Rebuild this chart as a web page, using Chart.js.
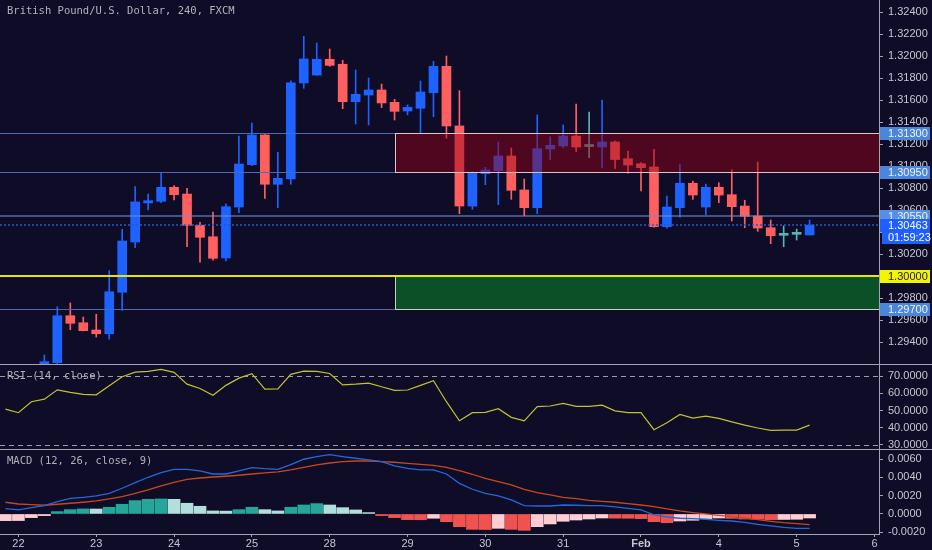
<!DOCTYPE html>
<html>
<head>
<meta charset="utf-8">
<title>GBP/USD 240</title>
<script src="https://cdn.jsdelivr.net/npm/chart.js@4.4.1/dist/chart.umd.min.js"></script>
<style>
  html, body { margin: 0; padding: 0; background: #0f0c27; }
  #wrap { position: relative; width: 932px; height: 550px; overflow: hidden; }
  #wrap canvas { position: absolute; left: 0; }
</style>
</head>
<body>
<div id="wrap">
  <canvas id="priceChart" width="932" height="364" style="top:0"></canvas>
  <canvas id="rsiChart" width="932" height="85" style="top:364px"></canvas>
  <canvas id="macdChart" width="932" height="101" style="top:449px"></canvas>
</div>
<script>
// dados - candles de 4h, indice 0..62
var dayLabels = ['22', '23', '24', '25', '28', '29', '30', '31', 'Feb', '4', '5', '6'];
var dayStarts = [1, 7, 13, 19, 25, 31, 37, 43, 49, 55, 61, 67];

var opens = [
  1.29150, 1.29120, 1.29090, 1.29150, 1.29212, 1.29639, 1.29575, 1.29509, 1.29475, 1.29852,
  1.30309, 1.30664, 1.30679, 1.30806, 1.30745, 1.30461, 1.30357, 1.30164, 1.30627, 1.31012,
  1.31282, 1.30834, 1.30882, 1.31755, 1.31827, 1.31970, 1.31925, 1.31585, 1.31645, 1.31691,
  1.31579, 1.31500, 1.31525, 1.31666, 1.31906, 1.31364, 1.30636, 1.30930, 1.30957, 1.31091,
  1.30782, 1.30621, 1.31155, 1.31182, 1.31273, 1.31177, 1.31173, 1.31218, 1.31066, 1.31021,
  1.30991, 1.30448, 1.30621, 1.30843, 1.30627, 1.30806, 1.30739, 1.30636, 1.30545, 1.30439,
  1.30370, 1.30379, 1.30373
];
var highs = [
  1.29190, 1.29150, 1.29170, 1.29282, 1.29721, 1.29755, 1.29627, 1.29652, 1.30048, 1.30425,
  1.30812, 1.30745, 1.30943, 1.30821, 1.30797, 1.30488, 1.30582, 1.30655, 1.31273, 1.31391,
  1.31285, 1.31125, 1.31775, 1.32179, 1.32118, 1.32064, 1.31961, 1.31873, 1.31800, 1.31745,
  1.31606, 1.31555, 1.31773, 1.31952, 1.32000, 1.31685, 1.30948, 1.30988, 1.31218, 1.31164,
  1.30882, 1.31464, 1.31266, 1.31373, 1.31564, 1.31491, 1.31600, 1.31227, 1.31136, 1.31030,
  1.31152, 1.30727, 1.31018, 1.30864, 1.30836, 1.30848, 1.30964, 1.30688, 1.31036, 1.30509,
  1.30455, 1.30427, 1.30509
];
var lows = [
  1.29080, 1.29060, 1.29070, 1.29120, 1.29200, 1.29512, 1.29500, 1.29445, 1.29425, 1.29688,
  1.30257, 1.30600, 1.30666, 1.30691, 1.30266, 1.30125, 1.30145, 1.30136, 1.30575, 1.31003,
  1.30706, 1.30621, 1.30834, 1.31706, 1.31823, 1.31906, 1.31521, 1.31382, 1.31373, 1.31530,
  1.31418, 1.31464, 1.31303, 1.31448, 1.31252, 1.30566, 1.30606, 1.30830, 1.30648, 1.30697,
  1.30548, 1.30566, 1.31057, 1.31166, 1.31130, 1.31075, 1.30982, 1.30979, 1.30934, 1.30773,
  1.30445, 1.30434, 1.30534, 1.30697, 1.30557, 1.30666, 1.30500, 1.30439, 1.30406, 1.30294,
  1.30266, 1.30327, 1.30373
];
var closes = [
  1.29120, 1.29090, 1.29150, 1.29221, 1.29639, 1.29570, 1.29503, 1.29475, 1.29857, 1.30318,
  1.30673, 1.30685, 1.30806, 1.30739, 1.30461, 1.30352, 1.30161, 1.30630, 1.31018, 1.31282,
  1.30834, 1.30888, 1.31757, 1.31973, 1.31970, 1.31915, 1.31585, 1.31652, 1.31691, 1.31573,
  1.31497, 1.31534, 1.31673, 1.31906, 1.31364, 1.30636, 1.30939, 1.30964, 1.31091, 1.30779,
  1.30621, 1.31157, 1.31188, 1.31273, 1.31173, 1.31177, 1.31218, 1.31059, 1.31009, 1.30985,
  1.30448, 1.30627, 1.30843, 1.30736, 1.30806, 1.30736, 1.30630, 1.30543, 1.30436, 1.30366,
  1.30370, 1.30379, 1.30463
];

var rsiValues = [
  50.8, 48.7, 55.1, 56.6, 62.0, 60.5, 59.4, 59.1, 64.4, 69.6,
  72.3, 72.7, 73.9, 72.2, 65.3, 62.8, 58.8, 64.6, 68.8, 71.4,
  62.4, 62.6, 71.0, 72.9, 72.7, 71.5, 64.9, 65.3, 65.9, 63.8,
  61.7, 61.9, 64.6, 67.3, 55.1, 44.0, 48.7, 48.9, 51.0, 46.0,
  44.0, 52.2, 52.6, 54.1, 52.4, 52.4, 53.1, 49.8, 48.7, 48.7,
  38.8, 42.9, 47.7, 45.6, 46.7, 45.4, 43.4, 41.5, 39.8, 38.4,
  38.6, 38.6, 41.5
];

var macdValues = [
  0.00058, 0.00044, 0.00069, 0.00091, 0.00135, 0.00171, 0.00182, 0.00197, 0.00226, 0.00281,
  0.00342, 0.00401, 0.00452, 0.00488, 0.00488, 0.00470, 0.00437, 0.00437, 0.00470, 0.00506,
  0.00495, 0.00488, 0.00539, 0.00598, 0.00627, 0.00648, 0.00627, 0.00609, 0.00590, 0.00572,
  0.00525, 0.00499, 0.00481, 0.00481, 0.00437, 0.00335, 0.00270, 0.00226, 0.00197, 0.00153,
  0.00091, 0.00087, 0.00087, 0.00098, 0.00095, 0.00091, 0.00091, 0.00077, 0.00062, 0.00044,
  -0.00011, -0.00033, -0.00047, -0.00051, -0.00058, -0.00069, -0.00077, -0.00091, -0.00113, -0.00131,
  -0.00146, -0.00157, -0.00157
];
var signalValues = [
  0.00128, 0.00109, 0.00102, 0.00095, 0.00106, 0.00117, 0.00128, 0.00142, 0.00164, 0.00189,
  0.00226, 0.00262, 0.00306, 0.00346, 0.00379, 0.00393, 0.00404, 0.00412, 0.00423, 0.00437,
  0.00448, 0.00459, 0.00481, 0.00510, 0.00536, 0.00557, 0.00572, 0.00579, 0.00579, 0.00572,
  0.00565, 0.00554, 0.00543, 0.00532, 0.00510, 0.00473, 0.00434, 0.00390, 0.00353, 0.00317,
  0.00270, 0.00233, 0.00208, 0.00182, 0.00168, 0.00149, 0.00138, 0.00128, 0.00113, 0.00098,
  0.00080, 0.00055, 0.00033, 0.00015, 0.00000, -0.00015, -0.00029, -0.00044, -0.00062, -0.00080,
  -0.00095, -0.00106, -0.00117
];
var histValues = [
  -0.00073, -0.00072, -0.00040, -0.00018, 0.00026, 0.00047, 0.00055, 0.00054, 0.00073, 0.00106,
  0.00146, 0.00160, 0.00164, 0.00160, 0.00117, 0.00084, 0.00033, 0.00031, 0.00047, 0.00073,
  0.00047, 0.00033, 0.00073, 0.00098, 0.00113, 0.00098, 0.00069, 0.00044, 0.00015, -0.00018,
  -0.00040, -0.00062, -0.00063, -0.00047, -0.00084, -0.00139, -0.00168, -0.00170, -0.00157, -0.00168,
  -0.00179, -0.00139, -0.00109, -0.00080, -0.00066, -0.00055, -0.00044, -0.00046, -0.00047, -0.00051,
  -0.00084, -0.00095, -0.00077, -0.00069, -0.00051, -0.00044, -0.00048, -0.00055, -0.00058, -0.00062,
  -0.00060, -0.00058, -0.00044
];

// ticks dos eixos
var priceTicks = [1.294, 1.296, 1.298, 1.300, 1.302, 1.304, 1.306, 1.308, 1.310, 1.312, 1.314, 1.316, 1.318, 1.320, 1.322, 1.324];
var rsiTicks = [30, 40, 50, 60, 70];
var rsiBands = [70, 30];
var macdTicks = [-0.002, 0, 0.002, 0.004, 0.006];

// niveis desenhados
var sellZone = [1.3095, 1.3130];
var buyZone = [1.2970, 1.3000];
var zoneFrom = 30;
var keyLevel = 1.3055;
var roundLevel = 1.3000;
var lastPrice = 1.30463;
var countdown = '01:59:23';

// estilo
var UP = '#1e62ff', DOWN = '#ff5f5f', DOJI = '#58b4b4';
var AXIS_W = 53;
var axisGray = '#a4a4b0';
var labelGray = '#c6c6ce';
var SANS = '"Liberation Sans", Arial, sans-serif';
var MONO = '"DejaVu Sans Mono", monospace';
var tickFont = { family: SANS, size: 11 };
var xMin = -0.42, xMax = 67.35;

var idx = closes.map(function (c, i) { return i; });

function candleColor(i) {
  if (opens[i] === closes[i]) return DOJI;
  return closes[i] > opens[i] ? UP : DOWN;
}

function histColor(i) {
  var v = histValues[i], prev = i > 0 ? histValues[i - 1] : v;
  if (v >= 0) return v >= prev ? '#26a69a' : '#b2dfdb';
  return v < prev ? '#ef5350' : '#ffcdd2';
}

function rightAxis(min, max, ticks, digits) {
  return {
    position: 'right', min: min, max: max,
    afterBuildTicks: function (s) { s.ticks = ticks.map(function (v) { return { value: v }; }); },
    afterFit: function (s) { s.width = AXIS_W; s.paddingTop = 0; s.paddingBottom = 0; },
    ticks: { color: labelGray, font: tickFont, padding: 5, autoSkip: false,
      callback: function (v) { return Number(v).toFixed(digits); } },
    grid: { drawOnChartArea: false, color: axisGray, tickLength: 4 },
    border: { color: axisGray }
  };
}

function hiddenX() {
  return { type: 'linear', min: xMin, max: xMax, offset: false, display: false };
}

function baseOptions(scales) {
  return {
    responsive: false, animation: false, events: [],
    layout: { padding: 0, autoPadding: false },
    plugins: { legend: { display: false }, tooltip: { enabled: false } },
    scales: scales
  };
}

function hLine(ctx, x0, x1, py, color, width, dash) {
  var yy = width % 2 === 1 ? Math.round(py) + 0.5 : Math.round(py);
  ctx.save();
  ctx.strokeStyle = color;
  ctx.lineWidth = width;
  ctx.setLineDash(dash || []);
  ctx.beginPath();
  ctx.moveTo(x0, yy);
  ctx.lineTo(x1, yy);
  ctx.stroke();
  ctx.restore();
}

function drawZone(ctx, x0, x1, yTop, yBot, fill, edge) {
  var l = Math.round(x0) + 0.5, t = Math.round(yTop) + 0.5, b = Math.round(yBot) + 0.5;
  ctx.fillStyle = fill;
  ctx.fillRect(l, t, x1 - l, b - t);
  ctx.strokeStyle = edge;
  ctx.lineWidth = 1;
  ctx.strokeRect(l, t, x1 - l + 2, b - t);
}

function priceTag(ctx, x0, x1, yc, text, bg, fg) {
  var y0 = Math.round(yc) - 6;
  ctx.fillStyle = bg;
  ctx.fillRect(x0, y0, x1 - x0, 13);
  ctx.fillStyle = fg;
  ctx.font = '11px ' + SANS;
  ctx.textAlign = 'left';
  ctx.textBaseline = 'middle';
  ctx.fillText(text, 888, y0 + 7);
}

function panelLabel(ctx, text, y) {
  ctx.save();
  ctx.font = '10.5px ' + MONO;
  ctx.fillStyle = '#b2b2ba';
  ctx.textAlign = 'left';
  ctx.textBaseline = 'middle';
  ctx.fillText(text, 7, y);
  ctx.restore();
}

// ---- grafico de precos ----
var priceOverlay = {
  id: 'priceOverlay',
  afterDatasetsDraw: function (chart) {
    var ctx = chart.ctx, a = chart.chartArea, x = chart.scales.x, y = chart.scales.y;
    ctx.save();
    ctx.beginPath();
    ctx.rect(a.left, a.top, a.right - a.left, a.bottom - a.top);
    ctx.clip();
    hLine(ctx, a.left, a.right, y.getPixelForValue(sellZone[1]), '#4a6ab4', 1);
    hLine(ctx, a.left, a.right, y.getPixelForValue(sellZone[0]), '#4a6ab4', 1);
    hLine(ctx, a.left, a.right, y.getPixelForValue(buyZone[0]), '#4a6ab4', 1);
    drawZone(ctx, x.getPixelForValue(zoneFrom), a.right, y.getPixelForValue(sellZone[1]),
      y.getPixelForValue(sellZone[0]), 'rgba(150,0,24,0.48)', '#e0c4c8');
    drawZone(ctx, x.getPixelForValue(zoneFrom), a.right, y.getPixelForValue(buyZone[1]),
      y.getPixelForValue(buyZone[0]), 'rgba(10,125,40,0.62)', '#c4d4c4');
    hLine(ctx, a.left, a.right, y.getPixelForValue(keyLevel), 'rgba(110,140,205,0.55)', 2);
    hLine(ctx, a.left, a.right, y.getPixelForValue(lastPrice), '#2a58c8', 1.5, [2, 2]);
    hLine(ctx, a.left, a.right, y.getPixelForValue(roundLevel), '#e6e600', 2);
    ctx.restore();
  },
  afterDraw: function (chart) {
    var ctx = chart.ctx, a = chart.chartArea, y = chart.scales.y;
    var x0 = a.right + 1, x1 = chart.width - 2;
    ctx.save();
    priceTag(ctx, x0, x1, y.getPixelForValue(sellZone[1]), sellZone[1].toFixed(5), '#4a86dc', '#eef2ff');
    priceTag(ctx, x0, x1, y.getPixelForValue(sellZone[0]), sellZone[0].toFixed(5), '#4a86dc', '#eef2ff');
    priceTag(ctx, x0, x1, y.getPixelForValue(keyLevel), keyLevel.toFixed(5), '#5690e4', '#eef2ff');
    var ly = y.getPixelForValue(lastPrice);
    priceTag(ctx, x0, x1, ly, lastPrice.toFixed(5), '#1f5fff', '#ffffff');
    priceTag(ctx, x0 + 2, x1, ly + 12, countdown, '#1f5fff', '#ffffff');
    priceTag(ctx, x0, x1, y.getPixelForValue(roundLevel), roundLevel.toFixed(5), '#f4f400', '#1a1a1a');
    priceTag(ctx, x0, x1, y.getPixelForValue(buyZone[0]), buyZone[0].toFixed(5), '#4a86dc', '#eef2ff');
    ctx.restore();
    panelLabel(ctx, 'British Pound/U.S. Dollar, 240, FXCM', 11);
  }
};

new Chart(document.getElementById('priceChart'), {
  type: 'bar',
  data: {
    datasets: [{
      data: idx.map(function (i) { return { x: i, y: [lows[i], highs[i]] }; }),
      backgroundColor: function (c) { return candleColor(c.dataIndex); },
      barThickness: 1,
      grouped: false,
      order: 2
    }, {
      data: idx.map(function (i) { return { x: i, y: [opens[i], closes[i]] }; }),
      backgroundColor: function (c) { return candleColor(c.dataIndex); },
      barThickness: 9,
      minBarLength: 2,
      grouped: false,
      order: 1
    }]
  },
  options: baseOptions({
    x: hiddenX(),
    y: rightAxis(1.292, 1.325091, priceTicks, 5)
  }),
  plugins: [priceOverlay]
});

// ---- RSI ----
var rsiOverlay = {
  id: 'rsiOverlay',
  beforeDatasetsDraw: function (chart) {
    var ctx = chart.ctx, a = chart.chartArea, y = chart.scales.y;
    rsiBands.forEach(function (v) {
      hLine(ctx, a.left, a.right, y.getPixelForValue(v), '#9c9ca8', 1, [5, 4]);
    });
  },
  afterDraw: function (chart) {
    hLine(chart.ctx, 0, chart.width, 0, axisGray, 1);
    panelLabel(chart.ctx, 'RSI (14, close)', 12);
  }
};

new Chart(document.getElementById('rsiChart'), {
  type: 'line',
  data: {
    datasets: [{
      data: idx.map(function (i) { return { x: i, y: rsiValues[i] }; }),
      borderColor: '#c2c22e',
      borderWidth: 1.2,
      pointRadius: 0,
      tension: 0
    }]
  },
  options: baseOptions({
    x: hiddenX(),
    y: rightAxis(27.6, 77.02, rsiTicks, 4)
  }),
  plugins: [rsiOverlay]
});

// ---- MACD ----
var macdOverlay = {
  id: 'macdOverlay',
  afterDraw: function (chart) {
    hLine(chart.ctx, 0, chart.width, 0, axisGray, 1);
    panelLabel(chart.ctx, 'MACD (12, 26, close, 9)', 12);
  }
};

new Chart(document.getElementById('macdChart'), {
  type: 'bar',
  data: {
    datasets: [{
      type: 'line',
      data: idx.map(function (i) { return { x: i, y: macdValues[i] }; }),
      borderColor: '#2468d8',
      borderWidth: 1.3,
      pointRadius: 0,
      order: 1
    }, {
      type: 'line',
      data: idx.map(function (i) { return { x: i, y: signalValues[i] }; }),
      borderColor: '#c8481e',
      borderWidth: 1.3,
      pointRadius: 0,
      order: 2
    }, {
      type: 'bar',
      data: idx.map(function (i) { return { x: i, y: histValues[i] }; }),
      backgroundColor: function (c) { return histColor(c.dataIndex); },
      barThickness: 12,
      order: 3
    }]
  },
  options: baseOptions({
    x: {
      type: 'linear', min: xMin, max: xMax, offset: false, position: 'bottom',
      afterBuildTicks: function (s) { s.ticks = dayStarts.map(function (v) { return { value: v }; }); },
      afterFit: function (s) { s.height = 16; s.paddingLeft = 0; s.paddingRight = 0; },
      ticks: {
        color: labelGray, autoSkip: false, maxRotation: 0, padding: 0,
        font: function (c) {
          var isMonth = isNaN(Number(dayLabels[c.index]));
          return { family: SANS, size: 11, weight: isMonth ? 'bold' : 'normal' };
        },
        callback: function (v, i) { return dayLabels[i]; }
      },
      grid: { drawOnChartArea: false, offset: false, color: axisGray, tickLength: 3 },
      border: { color: axisGray }
    },
    y: rightAxis(-0.00219, 0.0071, macdTicks, 4)
  }),
  plugins: [macdOverlay]
});
</script>
</body>
</html>
